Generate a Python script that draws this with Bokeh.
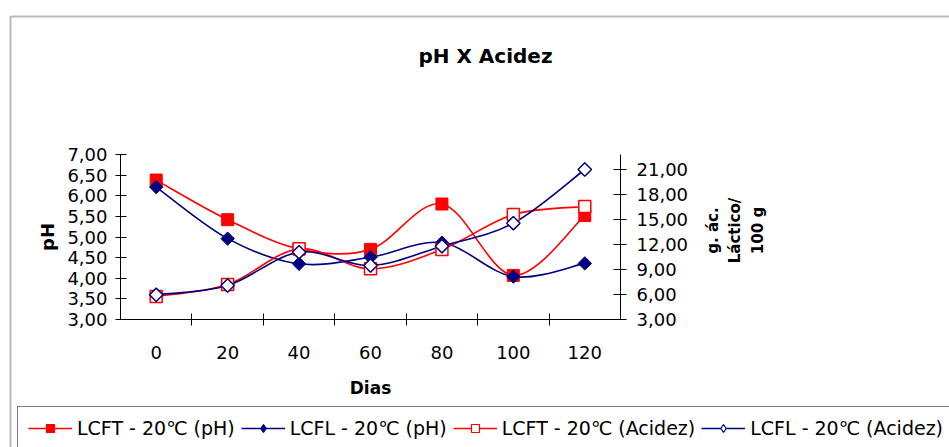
import math
from bokeh.plotting import figure
from bokeh.models import (Range1d, LinearAxis, FixedTicker, CustomJSTickFormatter,
                          ColumnDataSource, Legend, LegendItem, Label, BoxAnnotation)
from bokeh.embed import file_html
from bokeh.resources import INLINE

# ---- data ----
dias = [0, 20, 40, 60, 80, 100, 120]
ph_lcft = [6.38, 5.42, 4.71, 4.70, 5.80, 4.07, 5.52]
ph_lcfl = [6.21, 4.96, 4.35, 4.51, 4.86, 4.04, 4.36]
acid_lcft = [5.76, 7.20, 11.48, 9.08, 11.40, 15.60, 16.56]
acid_lcfl = [5.96, 7.08, 11.08, 9.48, 11.80, 14.56, 21.00]
ph_ticks = [3.0, 3.5, 4.0, 4.5, 5.0, 5.5, 6.0, 6.5, 7.0]
acid_ticks = [3, 6, 9, 12, 15, 18, 21]
x_tick_labels = ["0", "20", "40", "60", "80", "100", "120"]
series_names = ["LCFT - 20\u2103 (pH)", "LCFL - 20\u2103 (pH)",
                "LCFT - 20\u2103 (Acidez)", "LCFL - 20\u2103 (Acidez)"]

RED = "#FF0000"
NAVY = "#000080"
FONT = "DejaVu Sans"

# ---- layout (pixels) ----
W, H = 949, 447
PL, PR, PT, PB = 120, 620, 154, 319          # plot-area box on the canvas
X_LO, X_HI = -10, 130                       # category band edges
PH_LO, PH_HI = 3.0, 7.0
AC_LO, AC_HI = 3.0, 22.8


def span(lo, hi, p_lo, p_hi, total):
    per = (hi - lo) / (p_hi - p_lo)
    return lo - p_lo * per, lo + (total - p_lo) * per


x_start, x_end = span(X_LO, X_HI, PL, PR, W)
ph_start, ph_end = span(PH_LO, PH_HI, H - PB, H - PT, H)
ac_start, ac_end = span(AC_LO, AC_HI, H - PB, H - PT, H)


def smooth_segments(xs, ys):
    """Bezier control points of a Catmull-Rom style smoothed line (like Excel)."""
    n = len(xs)
    d = dict(x0=[], y0=[], x1=[], y1=[], cx0=[], cy0=[], cx1=[], cy1=[])
    for i in range(n - 1):
        a = max(i - 1, 0)
        b = min(i + 2, n - 1)
        d["x0"].append(xs[i]); d["y0"].append(ys[i])
        d["x1"].append(xs[i + 1]); d["y1"].append(ys[i + 1])
        d["cx0"].append(xs[i] + (xs[i + 1] - xs[a]) / 6.0)
        d["cy0"].append(ys[i] + (ys[i + 1] - ys[a]) / 6.0)
        d["cx1"].append(xs[i + 1] - (xs[b] - xs[i]) / 6.0)
        d["cy1"].append(ys[i + 1] - (ys[b] - ys[i]) / 6.0)
    return ColumnDataSource(d)


p = figure(width=W, height=H, x_range=Range1d(x_start, x_end),
           y_range=Range1d(ph_start, ph_end),
           output_backend="svg", toolbar_location=None,
           min_border_left=0, min_border_right=0, min_border_top=0, min_border_bottom=0)
p.title.visible = False
p.extra_y_ranges = {"acid": Range1d(ac_start, ac_end)}
p.background_fill_color = "white"
p.border_fill_color = "white"
p.outline_line_color = None
p.xgrid.visible = False
p.ygrid.visible = False

fmt = CustomJSTickFormatter(code="return tick.toFixed(2).replace('.', ',');")

# x axis
xa = p.xaxis[0]
xa.fixed_location = PH_LO
xa.bounds = (X_LO, X_HI)
xa.ticker = FixedTicker(ticks=dias, minor_ticks=[10, 30, 50, 70, 90, 110])
xa.major_label_overrides = {d: lab for d, lab in zip(dias, x_tick_labels)}
xa.major_tick_in = 0
xa.major_tick_out = 0
xa.minor_tick_in = 6
xa.minor_tick_out = 6
xa.minor_tick_line_color = "black"
xa.axis_line_color = "black"
xa.major_label_text_font = FONT
xa.major_label_text_font_size = "18px"
xa.major_label_text_color = "black"
xa.major_label_standoff = 20
xa.axis_label = "Dias"
xa.axis_label_text_font = FONT
xa.axis_label_text_font_size = "17px"
xa.axis_label_text_font_style = "bold"
xa.axis_label_text_color = "black"
xa.axis_label_standoff = 16

# left axis
ya = p.yaxis[0]
ya.fixed_location = X_LO
ya.bounds = (PH_LO, PH_HI)
ya.ticker = FixedTicker(ticks=ph_ticks)
ya.formatter = fmt
ya.major_tick_in = 6
ya.major_tick_out = 5
ya.major_tick_line_color = "black"
ya.minor_tick_line_color = None
ya.axis_line_color = "black"
ya.major_label_text_font = FONT
ya.major_label_text_font_size = "18px"
ya.major_label_text_color = "black"
ya.major_label_standoff = 8
ya.axis_label = "pH"
ya.axis_label_text_font = FONT
ya.axis_label_text_font_size = "18px"
ya.axis_label_text_font_style = "bold"
ya.axis_label_text_color = "black"
ya.axis_label_standoff = 6

# right axis
ra = LinearAxis(y_range_name="acid", ticker=FixedTicker(ticks=acid_ticks), formatter=fmt,
                fixed_location=X_HI, bounds=(AC_LO, AC_HI))
ra.major_tick_in = 7
ra.major_tick_out = 6
ra.major_tick_line_color = "black"
ra.minor_tick_line_color = None
ra.axis_line_color = "black"
ra.major_label_text_font = FONT
ra.major_label_text_font_size = "18px"
ra.major_label_text_color = "black"
ra.major_label_standoff = 10
p.add_layout(ra, "right")

# smoothed lines
lw = 1.6
p.bezier("x0", "y0", "x1", "y1", "cx0", "cy0", "cx1", "cy1",
         source=smooth_segments(dias, ph_lcft), line_color=RED, line_width=lw)
p.bezier("x0", "y0", "x1", "y1", "cx0", "cy0", "cx1", "cy1",
         source=smooth_segments(dias, ph_lcfl), line_color=NAVY, line_width=lw)
p.bezier("x0", "y0", "x1", "y1", "cx0", "cy0", "cx1", "cy1",
         source=smooth_segments(dias, acid_lcft), line_color=RED, line_width=lw,
         y_range_name="acid")
p.bezier("x0", "y0", "x1", "y1", "cx0", "cy0", "cx1", "cy1",
         source=smooth_segments(dias, acid_lcfl), line_color=NAVY, line_width=lw,
         y_range_name="acid")

# markers
DIA = math.pi / 4
p.scatter(dias, ph_lcft, marker="square", size=12, fill_color=RED, line_color=RED)
p.scatter(dias, ph_lcfl, marker="square", size=9.5, angle=DIA,
          fill_color=NAVY, line_color=NAVY)
p.scatter(dias, acid_lcft, marker="square", size=12, fill_color="white", line_color=RED,
          line_width=1.5, y_range_name="acid")
p.scatter(dias, acid_lcfl, marker="square", size=9.5, angle=DIA, fill_color="white",
          line_color=NAVY, line_width=1.5, y_range_name="acid")

# legend proxies (nothing drawn in the plot)
NAN = [float("nan")]
styles = [(RED, "square", RED), (NAVY, "diamond", NAVY),
          (RED, "square", "white"), (NAVY, "diamond", "white")]
items = []
for name, (col, mk, fill) in zip(series_names, styles):
    ln = p.line(NAN, NAN, line_color=col, line_width=lw)
    sc = p.scatter(NAN, NAN, marker=mk, size=12, fill_color=fill, line_color=col,
                   line_width=1.2)
    items.append(LegendItem(label=name, renderers=[ln, sc]))

legend = Legend(items=items, orientation="horizontal", location=(17, -3),
                glyph_width=44, glyph_height=20,
                label_standoff=5, spacing=6, padding=10, margin=0,
                border_line_color="black", border_line_width=1,
                label_text_font=FONT, label_text_font_size="19px",
                label_text_color="black", background_fill_color="white",
                background_fill_alpha=1)
p.add_layout(legend)

# outer chart border
border = BoxAnnotation(left=10, right=W + 20, top=H - 16, bottom=-20,
                       left_units="screen", right_units="screen",
                       top_units="screen", bottom_units="screen",
                       fill_alpha=0, line_color="#1a1a1a", line_width=2)
p.add_layout(border)

# title
p.add_layout(Label(x=485, y=H - 55, x_units="screen", y_units="screen", text="pH X Acidez",
                   text_align="center", text_baseline="alphabetic", text_font=FONT,
                   text_font_size="20px", text_font_style="bold", text_color="black"))

# right axis title (three lines)
for txt, xs in [("g. \u00e1c.", 712), ("L\u00e1ctico/", 734), ("100 g", 757)]:
    p.add_layout(Label(x=xs, y=H - 230, x_units="screen", y_units="screen", text=txt,
                       angle=math.pi / 2, text_align="center", text_baseline="middle",
                       text_font=FONT, text_font_size="15px", text_font_style="bold",
                       text_color="black"))

open("out.html", "w").write(file_html(p, INLINE))
